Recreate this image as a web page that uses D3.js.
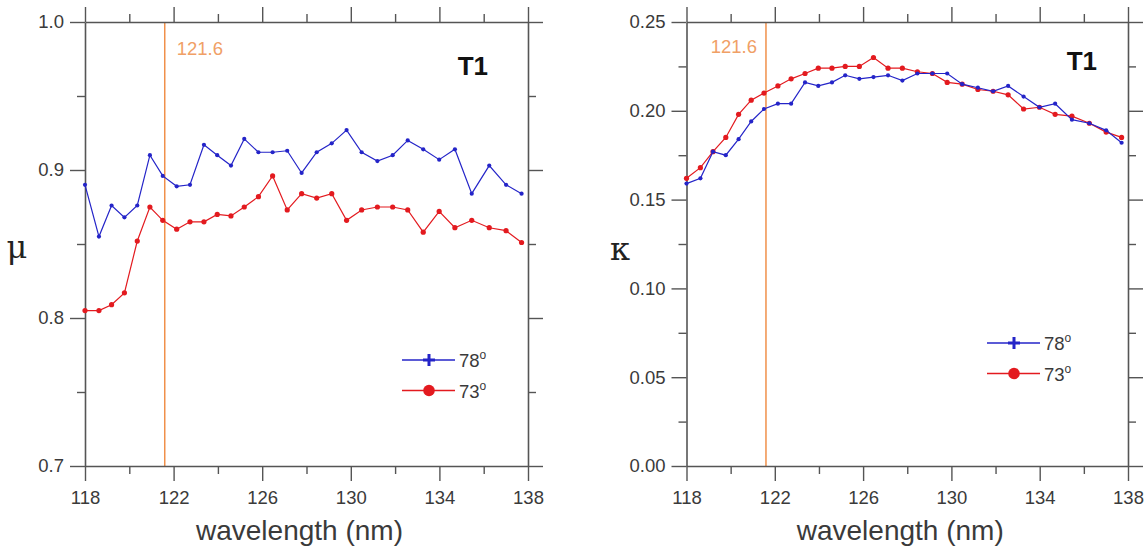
<!DOCTYPE html>
<html>
<head>
<meta charset="utf-8">
<script src="https://cdn.jsdelivr.net/npm/d3@7"></script>
<style>
  body { margin: 0; background: #fff; }
  svg { display: block; font-family: "Liberation Sans", Arial, sans-serif; }
</style>
</head>
<body>
<svg id="chart" width="1147" height="546"></svg>
<script>
// optical constants mu / kappa vs wavelength, two incidence angles

const wavelength = [118.0, 118.63, 119.2, 119.78, 120.36, 120.93, 121.51, 122.14, 122.74, 123.37,
  123.97, 124.59, 125.19, 125.83, 126.47, 127.13, 127.78, 128.46, 129.14, 129.81,
  130.49, 131.2, 131.89, 132.57, 133.27, 133.99, 134.7, 135.46, 136.25, 137.01, 137.71];

const mu78 = [0.890, 0.855, 0.876, 0.868, 0.876, 0.910, 0.896, 0.889, 0.890, 0.917,
  0.910, 0.903, 0.921, 0.912, 0.912, 0.913, 0.898, 0.912, 0.918, 0.927,
  0.912, 0.906, 0.910, 0.920, 0.914, 0.907, 0.914, 0.884, 0.903, 0.890, 0.884];
const mu73 = [0.805, 0.805, 0.809, 0.817, 0.852, 0.875, 0.866, 0.860, 0.865, 0.865,
  0.870, 0.869, 0.875, 0.882, 0.896, 0.873, 0.884, 0.881, 0.884, 0.866,
  0.873, 0.875, 0.875, 0.873, 0.858, 0.872, 0.861, 0.866, 0.861, 0.859, 0.851];

const kappa78 = [0.159, 0.162, 0.177, 0.175, 0.184, 0.194, 0.201, 0.204, 0.204, 0.216,
  0.214, 0.216, 0.220, 0.218, 0.219, 0.220, 0.217, 0.221, 0.221, 0.221,
  0.215, 0.213, 0.211, 0.214, 0.208, 0.202, 0.204, 0.195, 0.193, 0.189, 0.182];
const kappa73 = [0.162, 0.168, 0.177, 0.185, 0.198, 0.206, 0.210, 0.214, 0.218, 0.221,
  0.224, 0.224, 0.225, 0.225, 0.230, 0.224, 0.224, 0.222, 0.221, 0.216,
  0.215, 0.212, 0.211, 0.209, 0.201, 0.202, 0.198, 0.197, 0.193, 0.188, 0.185];

const xMajor = [118, 122, 126, 130, 134, 138];
const xMinor = [120, 124, 128, 132, 136];
const muMajor = [0.7, 0.8, 0.9, 1.0];
const muMinor = [0.75, 0.85, 0.95];
const kappaMajor = [0.00, 0.05, 0.10, 0.15, 0.20, 0.25];
const kappaMinor = [0.025, 0.075, 0.125, 0.175, 0.225];
const seriesNames = ['78', '73'];
const lyman = 121.6;
const panelTag = 'T1';

const AXIS = '#555';
const TEXT = '#3a3a3a';
const BLUE = '#2424c8';
const RED = '#e31a1f';
const ORANGE = '#f0904a';

const svg = d3.select('#chart');

drawPanel({
  left: 85, right: 528, top: 22, bottom: 466,
  yDomain: [0.7, 1.0], yMajor: muMajor, yMinor: muMinor, fmt: '.1f',
  blue: mu78, red: mu73,
  ylabel: 'μ', ylabelX: 17, ylabelY: 258,
  lymanDx: 12, lymanAnchor: 'start', lymanY: 55,
  tagX: 488, tagY: 75,
  legendX: 402, legendY: 360
});

drawPanel({
  left: 686.5, right: 1128, top: 22, bottom: 466,
  yDomain: [0, 0.25], yMajor: kappaMajor, yMinor: kappaMinor, fmt: '.2f',
  blue: kappa78, red: kappa73,
  ylabel: 'κ', ylabelX: 620, ylabelY: 260,
  lymanDx: -9, lymanAnchor: 'end', lymanY: 53,
  tagX: 1097, tagY: 70,
  legendX: 987, legendY: 343
});

function drawPanel(p){
  const x = d3.scaleLinear().domain([118, 138]).range([p.left, p.right]);
  const y = d3.scaleLinear().domain(p.yDomain).range([p.bottom, p.top]);
  const g = svg.append('g');

  // vertical Lyman-alpha marker
  g.append('line')
    .attr('x1', x(lyman)).attr('x2', x(lyman))
    .attr('y1', y.range()[0]).attr('y2', y.range()[1])
    .attr('stroke', ORANGE).attr('stroke-width', 1.5);
  g.append('text')
    .attr('x', x(lyman) + p.lymanDx).attr('y', p.lymanY)
    .attr('text-anchor', p.lymanAnchor)
    .attr('fill', '#f0a066')
    .style('font-size', '18.5px')
    .text(lyman.toFixed(1));

  // axes: major + minor, all four sides
  const axes = [
    { gen: d3.axisBottom(x), tr: `translate(0,${p.bottom})`, major: xMajor, minor: xMinor, label: true, pad: 10, fmt: d3.format('d') },
    { gen: d3.axisTop(x), tr: `translate(0,${p.top})`, major: xMajor, minor: xMinor, label: false },
    { gen: d3.axisLeft(y), tr: `translate(${p.left},0)`, major: p.yMajor, minor: p.yMinor, label: true, pad: 6, fmt: d3.format(p.fmt) },
    { gen: d3.axisRight(y), tr: `translate(${p.right},0)`, major: p.yMajor, minor: p.yMinor, label: false }
  ];
  axes.forEach(a => {
    const major = g.append('g').attr('transform', a.tr)
      .call(a.gen.tickValues(a.major).tickSize(15).tickSizeOuter(0)
        .tickPadding(a.pad || 6)
        .tickFormat(a.label ? a.fmt : () => ''));
    major.select('.domain').attr('stroke', AXIS).attr('stroke-width', 1.6);
    major.selectAll('.tick line').attr('stroke', AXIS).attr('stroke-width', 1.4);
    major.selectAll('.tick text')
      .attr('fill', TEXT)
      .style('font-size', '18.5px')
      .style('font-family', '"Liberation Sans", Arial, sans-serif');

    const minor = g.append('g').attr('transform', a.tr)
      .call(a.gen.tickValues(a.minor).tickSize(8).tickFormat(() => ''));
    minor.select('.domain').remove();
    minor.selectAll('.tick line').attr('stroke', AXIS).attr('stroke-width', 1.4);
  });

  // x label
  g.append('text')
    .attr('x', (p.left + p.right) / 2 - 7).attr('y', 540)
    .attr('text-anchor', 'middle')
    .attr('fill', TEXT)
    .style('font-size', '28px')
    .text('wavelength (nm)');

  // y label
  g.append('text')
    .attr('x', p.ylabelX).attr('y', p.ylabelY)
    .attr('text-anchor', 'middle')
    .attr('fill', '#222')
    .style('font-family', '"DejaVu Serif", "Liberation Serif", serif')
    .style('font-size', '32px')
    .text(p.ylabel);

  g.append('text')
    .attr('x', p.tagX).attr('y', p.tagY)
    .attr('text-anchor', 'end')
    .attr('fill', '#111')
    .style('font-size', '26px')
    .style('font-weight', 'bold')
    .text(panelTag);

  // series
  const line = d3.line().x((d, i) => x(wavelength[i])).y(d => y(d));
  [[p.red, RED], [p.blue, BLUE]].forEach(([vals, color]) => {
    g.append('path')
      .datum(vals)
      .attr('fill', 'none')
      .attr('stroke', color)
      .attr('stroke-width', 1.2)
      .attr('d', line);
    g.append('g')
      .selectAll('circle')
      .data(vals)
      .join('circle')
        .attr('cx', (d, i) => x(wavelength[i]))
        .attr('cy', d => y(d))
        .attr('r', color === RED ? 2.6 : 2.1)
        .attr('fill', color);
  });

  // legend
  const leg = g.append('g').attr('transform', `translate(${p.legendX},${p.legendY})`);
  seriesNames.forEach((name, i) => {
    const color = i === 0 ? BLUE : RED;
    const row = leg.append('g').attr('transform', `translate(0,${i * 30.5})`);
    row.append('line')
      .attr('x1', 0).attr('x2', 53)
      .attr('stroke', color).attr('stroke-width', 1.3);
    if(i === 0){
      row.append('path')
        .attr('d', 'M27,-6V6M21,0H33')
        .attr('stroke', color).attr('stroke-width', 3);
    } else {
      row.append('circle').attr('cx', 27).attr('r', 5.8).attr('fill', color);
    }
    const t = row.append('text')
      .attr('x', 57).attr('y', 7)
      .attr('fill', TEXT)
      .style('font-size', '18.5px');
    t.append('tspan').text(name);
    t.append('tspan').attr('dy', -8).style('font-size', '12px').text('o');
  });
}
</script>
</body>
</html>
